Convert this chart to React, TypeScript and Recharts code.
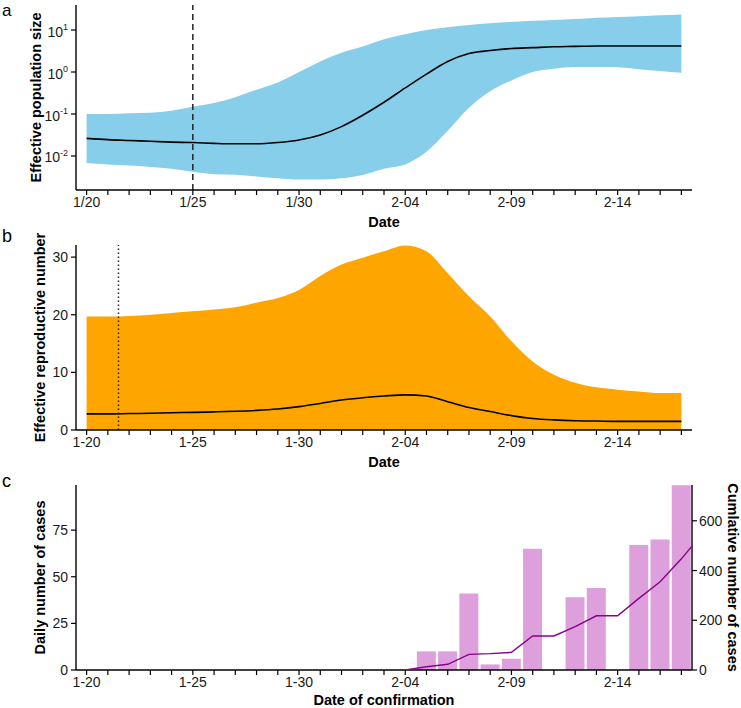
import React from "react";
import {
  ComposedChart,
  Area,
  Line,
  Bar,
  XAxis,
  YAxis,
  ReferenceLine,
} from "recharts";

// days counted from 1/20
const days = [
  0, 1, 2, 3, 4, 5, 6, 7, 8, 9, 10, 11, 12, 13, 14, 15, 16, 17, 18, 19, 20,
  21, 22, 23, 24, 25, 26, 27, 28,
];
const labelDays = [0, 5, 10, 15, 20, 25];
const dateLabelsA = ["1/20", "1/25", "1/30", "2-04", "2-09", "2-14"];
const dateLabels = ["1-20", "1-25", "1-30", "2-04", "2-09", "2-14"];

// panel a: effective population size (log scale)
const neUpper = [
  0.1, 0.1, 0.104, 0.107, 0.12, 0.148, 0.182, 0.251, 0.38, 0.562, 1.0, 1.78,
  2.88, 4.07, 6.03, 7.94, 10.0, 11.7, 13.2, 14.5, 15.5, 16.6, 17.4, 18.2,
  19.5, 20.4, 21.4, 22.4, 23.4,
];
const neLower = [
  0.0068, 0.0063, 0.0059, 0.0055, 0.005, 0.0042, 0.0037, 0.0036, 0.00324,
  0.00295, 0.00275, 0.00275, 0.00295, 0.00355, 0.005, 0.0063, 0.0126, 0.0398,
  0.141, 0.347, 0.631, 1.0, 1.2, 1.32, 1.32, 1.29, 1.17, 1.05, 0.955,
];
const neMedian = [
  0.0263, 0.0245, 0.0234, 0.0224, 0.0214, 0.0209, 0.02, 0.0195, 0.0195,
  0.0209, 0.024, 0.0316, 0.0501, 0.0933, 0.19, 0.417, 0.891, 1.78, 2.75,
  3.24, 3.63, 3.8, 3.98, 4.07, 4.17, 4.17, 4.17, 4.17, 4.17,
];
const neTicks = [0.01, 0.1, 1, 10];

// panel b: effective reproductive number
const rtUpper = [
  19.7, 19.7, 19.8, 20.0, 20.3, 20.6, 20.9, 21.3, 22.1, 22.9, 24.3, 26.7,
  28.7, 29.9, 31.0, 32.0, 31.0, 27.2, 23.2, 19.7, 15.4, 11.9, 9.6, 8.2, 7.4,
  7.0, 6.7, 6.4, 6.4,
];
const rtMedian = [
  2.8, 2.8, 2.85, 2.9, 3.0, 3.05, 3.15, 3.25, 3.4, 3.65, 4.05, 4.6, 5.2, 5.6,
  5.9, 6.1, 5.9, 4.9, 3.9, 3.2, 2.5, 2.0, 1.75, 1.6, 1.55, 1.5, 1.5, 1.5, 1.5,
];
const rtTicks = [0, 10, 20, 30];

// panel c: confirmed cases
const dailyCases = [
  0, 0, 0, 0, 0, 0, 0, 0, 0, 0, 0, 0, 0, 0, 0, 0, 10, 10, 41, 3, 6, 65, 0, 39,
  44, 0, 67, 70, 99,
];
const cumDays = [15, 16, 17, 18, 19, 20, 21, 22, 23, 24, 25, 26, 27, 28, 28.5];
const cumCases = [
  0, 13, 23, 63, 66, 71, 137, 137, 174, 218, 218, 288, 355, 447, 498,
];
const dailyTicks = [0, 25, 50, 75];
const cumTicks = [0, 200, 400, 600];

const neData = days.map((d, i) => ({
  day: d,
  band: [neLower[i], neUpper[i]],
  median: neMedian[i],
}));
const rtData = days.map((d, i) => ({ day: d, upper: rtUpper[i], median: rtMedian[i] }));
const caseData = days.map((d, i) => ({ day: d, cases: dailyCases[i] }));
const cumData = cumDays.map((d, i) => ({ day: d, cum: cumCases[i] }));

const W = 741;
const FONT = "'Liberation Sans', Arial, sans-serif";
const TEXT = "#1a1a1a";
const axisLine = { stroke: "#000", strokeWidth: 1.4 };
const tickLine = { stroke: "#000", strokeWidth: 1.2 };
const tickStyle = { fontSize: 14, fill: TEXT };
const DOMAIN_X: [number, number] = [-0.5, 28.5];

const fmt = (labels: string[]) => (v: number) => {
  const i = labelDays.indexOf(v);
  return i >= 0 ? labels[i] : "";
};

function xTitle(text: string, dy: number) {
  return (props: any) => {
    const vb = props.viewBox || {};
    return (
      <text
        x={vb.x + vb.width / 2}
        y={vb.y + dy}
        textAnchor="middle"
        fontWeight="bold"
        fontSize={14.5}
        fill="#000"
      >
        {text}
      </text>
    );
  };
}

function yTitle(text: string, cx: number, angle: number) {
  return (props: any) => {
    const vb = props.viewBox || {};
    const cy = vb.y + vb.height / 2;
    return (
      <text
        x={cx}
        y={cy}
        transform={`rotate(${angle} ${cx} ${cy})`}
        textAnchor="middle"
        dominantBaseline="central"
        fontWeight="bold"
        fontSize={14.5}
        fill="#000"
      >
        {text}
      </text>
    );
  };
}

// 10^k labels
function PowTick(props: any) {
  const { x, y, payload } = props;
  const exp = Math.round(Math.log10(payload.value));
  return (
    <text x={x} y={y} dy={6.5} textAnchor="end" fontSize={14} fill={TEXT}>
      10
      <tspan dy={-6.5} fontSize={9}>
        {exp}
      </tspan>
    </text>
  );
}

export default function App() {
  return (
    <div
      style={{
        position: "absolute",
        left: 0,
        top: 0,
        width: W,
        height: 708,
        background: "#fff",
        fontFamily: FONT,
      }}
    >
      {/* a */}
      <div style={{ position: "absolute", left: 0, top: 0 }}>
        <ComposedChart
          width={W}
          height={240}
          data={neData}
          margin={{ top: 5, right: 49, bottom: 0, left: 0 }}
        >
          <XAxis
            dataKey="day"
            type="number"
            domain={DOMAIN_X}
            ticks={days}
            interval={0}
            tickFormatter={fmt(dateLabelsA)}
            height={50}
            tickSize={5}
            tickMargin={2}
            axisLine={axisLine}
            tickLine={tickLine}
            tick={tickStyle}
            label={{ content: xTitle("Date", 37) }}
          />
          <YAxis
            scale="log"
            domain={[0.00155, 39.4]}
            allowDataOverflow
            ticks={neTicks}
            interval={0}
            width={76}
            tickSize={5}
            tickMargin={3}
            axisLine={axisLine}
            tickLine={tickLine}
            tick={<PowTick />}
            label={{ content: yTitle("Effective population size", 36, -90) }}
          />
          <Area
            dataKey="band"
            type="monotone"
            fill="#87CEEB"
            fillOpacity={1}
            stroke="none"
            isAnimationActive={false}
          />
          <Line
            dataKey="median"
            type="monotone"
            stroke="#000"
            strokeWidth={1.6}
            dot={false}
            isAnimationActive={false}
          />
          <ReferenceLine
            x={5}
            stroke="#222"
            strokeWidth={1.5}
            strokeDasharray="6 4"
          />
        </ComposedChart>
      </div>

      {/* b */}
      <div style={{ position: "absolute", left: 0, top: 220 }}>
        <ComposedChart
          width={W}
          height={250}
          data={rtData}
          margin={{ top: 25, right: 49, bottom: 0, left: 0 }}
        >
          <XAxis
            dataKey="day"
            type="number"
            domain={DOMAIN_X}
            ticks={days}
            interval={0}
            tickFormatter={fmt(dateLabels)}
            height={40}
            tickSize={5}
            tickMargin={2}
            axisLine={axisLine}
            tickLine={tickLine}
            tick={tickStyle}
            label={{ content: xTitle("Date", 37) }}
          />
          <YAxis
            domain={[0, 32.1]}
            allowDataOverflow
            ticks={rtTicks}
            interval={0}
            width={76}
            tickSize={5}
            tickMargin={3}
            axisLine={axisLine}
            tickLine={tickLine}
            tick={tickStyle}
            label={{ content: yTitle("Effective reproductive number", 40, -90) }}
          />
          <Area
            dataKey="upper"
            type="monotone"
            fill="#FFA500"
            fillOpacity={1}
            stroke="none"
            isAnimationActive={false}
          />
          <Line
            dataKey="median"
            type="monotone"
            stroke="#000"
            strokeWidth={1.6}
            dot={false}
            isAnimationActive={false}
          />
          <ReferenceLine
            x={1.5}
            stroke="#222"
            strokeWidth={1.5}
            strokeDasharray="1.5 2.5"
          />
        </ComposedChart>
      </div>

      {/* c: bars + axes */}
      <div style={{ position: "absolute", left: 0, top: 470 }}>
        <ComposedChart
          width={W}
          height={238}
          data={caseData}
          margin={{ top: 15, right: 0, bottom: 0, left: 0 }}
        >
          <XAxis
            dataKey="day"
            type="number"
            domain={DOMAIN_X}
            ticks={days}
            interval={0}
            tickFormatter={fmt(dateLabels)}
            height={38}
            tickSize={5}
            tickMargin={2}
            axisLine={axisLine}
            tickLine={tickLine}
            tick={tickStyle}
            label={{ content: xTitle("Date of confirmation", 35) }}
          />
          <YAxis
            yAxisId="left"
            domain={[0, 99.2]}
            allowDataOverflow
            ticks={dailyTicks}
            interval={0}
            width={76}
            tickSize={5}
            tickMargin={3}
            axisLine={axisLine}
            tickLine={tickLine}
            tick={tickStyle}
            label={{ content: yTitle("Daily number of cases", 40, -90) }}
          />
          <YAxis
            yAxisId="right"
            orientation="right"
            domain={[0, 744]}
            allowDataOverflow
            ticks={cumTicks}
            interval={0}
            width={49}
            tickSize={5}
            tickMargin={2}
            axisLine={axisLine}
            tickLine={tickLine}
            tick={tickStyle}
            label={{ content: yTitle("Cumlative number of cases", 733, 90) }}
          />
          <Bar
            yAxisId="left"
            dataKey="cases"
            fill="#DDA0DD"
            barSize={19}
            isAnimationActive={false}
          />
        </ComposedChart>
      </div>

      {/* c: cumulative line, same plot box */}
      <div style={{ position: "absolute", left: 0, top: 470, pointerEvents: "none" }}>
        <ComposedChart
          width={W}
          height={238}
          data={cumData}
          margin={{ top: 15, right: 49, bottom: 38, left: 76 }}
        >
          <XAxis dataKey="day" type="number" domain={DOMAIN_X} hide />
          <YAxis domain={[0, 744]} allowDataOverflow hide />
          <Line
            dataKey="cum"
            type="linear"
            stroke="#8B008B"
            strokeWidth={1.4}
            dot={false}
            isAnimationActive={false}
          />
        </ComposedChart>
      </div>

      <svg
        width={W}
        height={708}
        style={{ position: "absolute", left: 0, top: 0, pointerEvents: "none" }}
      >
        <text x={2} y={15.5} fontSize={17} fill="#000">
          a
        </text>
        <text x={2} y={242} fontSize={18} fill="#000">
          b
        </text>
        <text x={2} y={487} fontSize={18} fill="#000">
          c
        </text>
      </svg>
    </div>
  );
}
